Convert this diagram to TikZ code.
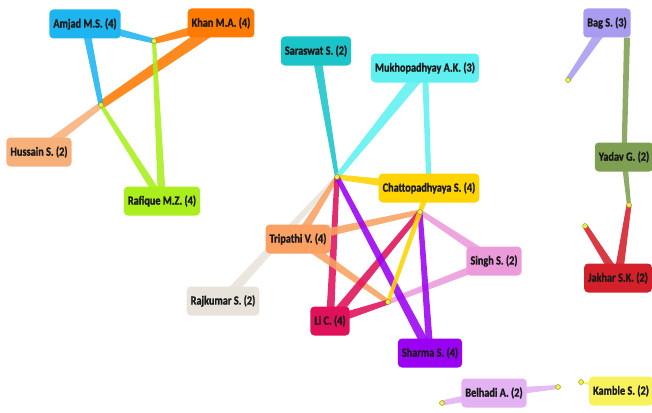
\documentclass[tikz,border=0pt]{standalone}
\usepackage{fontspec}
\setmainfont{Carlito}[FakeStretch=0.82, BoldFeatures={FakeBold=1.2}]
\usetikzlibrary{backgrounds,calc}
\definecolor{cAmjad}{HTML}{1EB4F0}
\definecolor{cKhan}{HTML}{FF7A00}
\definecolor{cHussain}{HTML}{F7B07A}
\definecolor{cRafique}{HTML}{AAEE1C}
\definecolor{cSaraswat}{HTML}{1AC4C8}
\definecolor{cMukh}{HTML}{5EF0F0}
\definecolor{cChatt}{HTML}{FFD400}
\definecolor{cTripathi}{HTML}{F9A062}
\definecolor{cSingh}{HTML}{EC9BDA}
\definecolor{cRaj}{HTML}{E8E3DA}
\definecolor{cLi}{HTML}{E0105A}
\definecolor{cSharma}{HTML}{9A00F2}
\definecolor{cBag}{HTML}{A89CF0}
\definecolor{cYadav}{HTML}{7E9E52}
\definecolor{cJakhar}{HTML}{D4202A}
\definecolor{cBelhadi}{HTML}{E2B2F2}
\definecolor{cKamble}{HTML}{F8F25C}
\definecolor{hubyellow}{HTML}{EEF04A}
\definecolor{hubdark}{HTML}{8A8A20}
% tapered connector: colour, from, to, width at start, width at end (pt)
\newcommand{\tpr}[5]{%
  \fill[#1, opacity=0.88] let \p1=(#2), \p2=(#3),
    \n1={atan2(\y2-\y1,\x2-\x1)+90} in
    ($(\p1)+(\n1:{0.5*#4pt})$) -- ($(\p2)+(\n1:{0.5*#5pt})$) --
    ($(\p2)+(\n1+180:{0.5*#5pt})$) -- ($(\p1)+(\n1+180:{0.5*#4pt})$) -- cycle;}
\begin{document}
\begin{tikzpicture}[x=1pt,y=-1pt,
  au/.style={fill=#1, rounded corners=4pt, inner xsep=4pt, inner ysep=0pt,
    minimum height=29pt, text=black!90,
    font=\bfseries\fontsize{12.5}{12.5}\selectfont},
  hub/.style={circle, fill=hubyellow, draw=hubdark, line width=0.4pt,
    inner sep=0pt, minimum size=5pt}]
\useasboundingbox (0,0) rectangle (652,412);
% authors
\node[au=cAmjad] (amjad) at (85,24) {Amjad M.S. (4)};
\node[au=cKhan] (khan) at (221,23) {Khan M.A. (4)};
\node[au=cHussain] (hussain) at (39,152) {Hussain S. (2)};
\node[au=cRafique] (rafique) at (162,201) {Rafique M.Z. (4)};
\node[au=cSaraswat] (saraswat) at (316,51) {Saraswat S. (2)};
\node[au=cMukh] (mukh) at (425,68) {Mukhopadhyay A.K. (3)};
\node[au=cChatt] (chatt) at (429,188) {Chattopadhyaya S. (4)};
\node[au=cTripathi] (tripathi) at (298,239) {Tripathi V. (4)};
\node[au=cSingh] (singh) at (494,261) {Singh S. (2)};
\node[au=cRaj] (raj) at (223,301) {Rajkumar S. (2)};
\node[au=cLi] (li) at (330,321) {Li C. (4)};
\node[au=cSharma] (sharma) at (430,353) {Sharma S. (4)};
\node[au=cBag] (bag) at (607,23) {Bag S. (3)};
\node[au=cYadav] (yadav) at (624,157) {Yadav G. (2)};
\node[au=cJakhar] (jakhar) at (618,278) {Jakhar S.K. (2)};
\node[au=cBelhadi] (belhadi) at (494,393) {Belhadi A. (2)};
\node[au=cKamble] (kamble) at (621,391) {Kamble S. (2)};
% hubs
\node[hub] (h1) at (154,41) {};
\node[hub] (h2) at (101,105) {};
\node[hub] (h3) at (337,177) {};
\node[hub] (h4) at (420,212) {};
\node[hub] (h5) at (388,302) {};
\node[hub] (h6) at (568,80) {};
\node[hub] (h7) at (629,205) {};
\node[hub] (h8) at (585,226) {};
\node[hub] (h9) at (442,403) {};
\node[hub] (h10) at (558,387) {};
\node[hub] (h11) at (581,382) {};
\coordinate (bagfoot) at ([xshift=20pt]bag.south);
\begin{scope}[on background layer]
  \tpr{cHussain}{hussain.center}{h2.center}{10}{6}
  \tpr{cKhan}{khan.center}{h2.center}{12}{8}
  \tpr{cKhan}{khan.center}{h1.center}{10}{6}
  \tpr{cAmjad}{amjad.center}{h1.center}{9}{5}
  \tpr{cAmjad}{amjad.center}{h2.center}{8}{5}
  \tpr{cRafique}{rafique.center}{h1.center}{8}{4}
  \tpr{cRafique}{rafique.center}{h2.center}{8}{4}
  \tpr{cRaj}{raj.center}{h3.center}{10}{4}
  \tpr{cTripathi}{tripathi.center}{h3.center}{9}{4}
  \tpr{cSaraswat}{saraswat.center}{h3.center}{9}{4}
  \tpr{cMukh}{mukh.center}{h3.center}{12}{5}
  \tpr{cMukh}{mukh.center}{chatt.center}{6}{5}
  \tpr{cChatt}{chatt.center}{h3.center}{10}{5}
  \tpr{cLi}{li.center}{h3.center}{8}{5}
  \tpr{cTripathi}{tripathi.center}{h4.center}{9}{5}
  \tpr{cTripathi}{tripathi.center}{h5.center}{9}{5}
  \tpr{cSingh}{singh.center}{h4.center}{9}{5}
  \tpr{cSingh}{singh.center}{h5.center}{8}{5}
  \tpr{cLi}{li.center}{h4.center}{9}{5}
  \tpr{cLi}{li.center}{h5.center}{9}{5}
  \tpr{cSharma}{sharma.center}{h3.center}{9}{5}
  \tpr{cSharma}{sharma.center}{h4.center}{7}{5}
  \tpr{cChatt}{chatt.center}{h4.center}{6}{5}
  \tpr{cChatt}{h4.center}{h5.center}{5}{4}
  \tpr{cBag}{bag.center}{h6.center}{10}{5}
  \tpr{cYadav}{bagfoot}{yadav.center}{6}{5}
  \tpr{cYadav}{yadav.center}{h7.center}{6}{4}
  \tpr{cJakhar}{jakhar.center}{h7.center}{9}{5}
  \tpr{cJakhar}{jakhar.center}{h8.center}{9}{5}
  \tpr{cBelhadi}{belhadi.center}{h9.center}{8}{5}
  \tpr{cBelhadi}{belhadi.center}{h10.center}{9}{4}
  \tpr{cKamble}{kamble.center}{h11.center}{4}{2}
\end{scope}
\end{tikzpicture}
\end{document}
